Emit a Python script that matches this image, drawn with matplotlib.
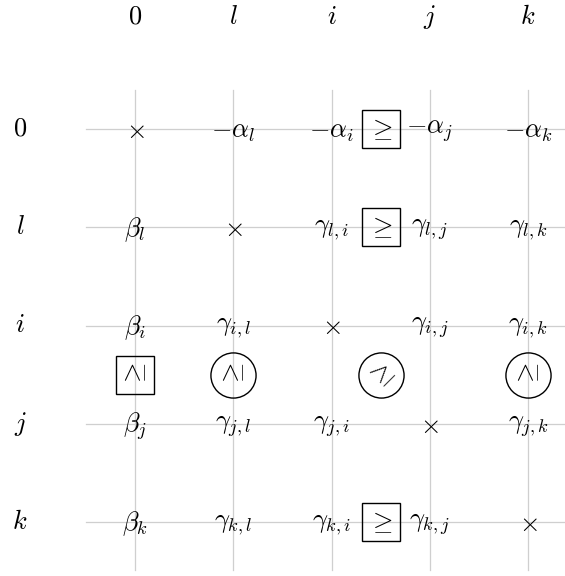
import matplotlib
matplotlib.use("Agg")
import matplotlib.pyplot as plt

plt.rcParams['mathtext.fontset'] = 'cm'
plt.rcParams['font.family'] = ['DejaVu Sans']

# ---- data ----
col_labels = [r"$0$", r"$l$", r"$i$", r"$j$", r"$k$"]
row_labels = [r"$0$", r"$l$", r"$i$", r"$j$", r"$k$"]
cells = [
    [r"$\times$", r"$-\alpha_l$", r"$-\alpha_i$", r"$-\alpha_j$", r"$-\alpha_k$"],
    [r"$\beta_l$", r"$\times$", r"$\gamma_{l,i}$", r"$\gamma_{l,j}$", r"$\gamma_{l,k}$"],
    [r"$\beta_i$", r"$\gamma_{i,l}$", r"$\times$", r"$\gamma_{i,j}$", r"$\gamma_{i,k}$"],
    [r"$\beta_j$", r"$\gamma_{j,l}$", r"$\gamma_{j,i}$", r"$\times$", r"$\gamma_{j,k}$"],
    [r"$\beta_k$", r"$\gamma_{k,l}$", r"$\gamma_{k,i}$", r"$\gamma_{k,j}$", r"$\times$"],
]
# relation markers between cells (row index, column index, rotation, frame)
rel_rows = [0, 1, 4, 2.5, 2.5, 2.5, 2.5]
rel_cols = [2.5, 2.5, 2.5, 0, 1, 2.5, 4]
rel_rot = [0, 0, 0, 90, 90, 45, 90]
rel_frame = ["s", "s", "s", "s", "o", "o", "o"]

W, H = 565, 576
fig = plt.figure(figsize=(W / 100, H / 100), dpi=100)
ax = fig.add_axes([0, 0, 1, 1])
step = 98.25
x0px, y0px = 135, 129
ax.set_xlim(-x0px / step, (W - x0px) / step)
ax.set_ylim((H - y0px) / step, -y0px / step)
ax.axis("off")

n = len(col_labels)
grid_color = "#cfcfcf"
for c in range(n):
    ax.plot([c, c], [-0.40, 4.49], color=grid_color, lw=0.9, zorder=1)
for r in range(n):
    ax.plot([-0.50, 4.7], [r, r], color=grid_color, lw=0.9, zorder=1)

fs = 19
for c, lab in enumerate(col_labels):
    ax.text(c, (17 - y0px) / step, lab, fontsize=fs, ha="center", va="center")
for r, lab in enumerate(row_labels):
    ax.text((20 - x0px) / step, r, lab, fontsize=fs, ha="center", va="center")

for r in range(n):
    for c in range(n):
        ax.text(c, r + 0.02, cells[r][c], fontsize=fs, ha="center", va="center", zorder=3)

for r, c, rot, fr in zip(rel_rows, rel_cols, rel_rot, rel_frame):
    ax.text(c, r, r"$\geq$", fontsize=fs, ha="center", va="center",
            rotation=rot, rotation_mode="anchor", zorder=3)
    if fr == "s":
        ax.plot([c], [r], marker="s", markersize=27.5, mfc="none", mec="black",
                mew=1.0, zorder=2)
    else:
        ax.plot([c], [r], marker="o", markersize=32.5, mfc="none", mec="black",
                mew=1.0, zorder=2)

fig.savefig("out.png", dpi=100)
